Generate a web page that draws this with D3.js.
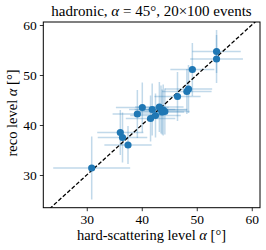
<!DOCTYPE html>
<html>
<head>
<meta charset="utf-8">
<script src="https://cdn.jsdelivr.net/npm/d3@7"></script>
<style>
  body { margin: 0; background: #fff; }
  text { font-family: "Liberation Serif", "DejaVu Serif", serif; fill: #000; }
</style>
</head>
<body>
<svg id="chart" width="266" height="250"></svg>
<script>
// hard-scattering level alpha (x) and reco level alpha (y), degrees
const hardAlpha = [30.9, 36.1, 36.5, 37.5, 39.2, 40.1, 41.6, 41.9, 42.5, 43.2,
                   43.5, 43.9, 44.2, 43.7, 46.5, 48.2, 48.5, 49.2, 53.6, 53.6];
const recoAlpha = [31.4, 38.5, 37.5, 36.0, 42.2, 43.5, 41.3, 43.1, 41.9, 43.6,
                   43.1, 43.0, 42.7, 42.6, 45.7, 46.7, 47.2, 51.1, 54.7, 53.2];
const hardErr   = [7.0, 4.2, 4.5, 4.3, 4.5, 4.8, 4.5, 4.2, 4.6, 4.4,
                   4.8, 4.3, 4.5, 4.0, 4.2, 4.5, 4.3, 4.0, 4.4, 4.8];
const recoErr   = [6.3, 4.5, 5.0, 3.8, 4.8, 5.0, 4.6, 5.2, 4.4, 5.0,
                   4.8, 5.1, 4.6, 4.5, 4.9, 4.5, 4.8, 5.3, 4.3, 4.8];
const xTicks = [30, 40, 50, 60];
const yTicks = [30, 40, 50, 60];

const data = hardAlpha.map((x, i) => ({x: x, y: recoAlpha[i], ex: hardErr[i], ey: recoErr[i]}));

let chart = d3.select("#chart");
let mLeft = 43.3, mRight = 260, mTop = 22, mBottom = 207.7;

let xScale = d3.scaleLinear().domain([22.1, 61.5]).range([mLeft, mRight]);
let yScale = d3.scaleLinear().domain([23.46, 60.6]).range([mBottom, mTop]);

chart.append("defs").append("clipPath").attr("id", "clip")
    .append("rect")
        .attr("x", mLeft).attr("y", mTop)
        .attr("width", mRight - mLeft).attr("height", mBottom - mTop);

let plot = chart.append("g").attr("clip-path", "url(#clip)");

// error bars
let eb = plot.append("g")
    .attr("stroke", "#1f77b4")
    .attr("stroke-opacity", 0.28)
    .attr("stroke-width", 1.5);

eb.selectAll("line.h")
    .data(data).enter()
        .append("line")
            .attr("class", "h")
            .attr("x1", d => xScale(d.x - d.ex))
            .attr("x2", d => xScale(d.x + d.ex))
            .attr("y1", d => yScale(d.y))
            .attr("y2", d => yScale(d.y));

eb.selectAll("line.v")
    .data(data).enter()
        .append("line")
            .attr("class", "v")
            .attr("x1", d => xScale(d.x))
            .attr("x2", d => xScale(d.x))
            .attr("y1", d => yScale(d.y - d.ey))
            .attr("y2", d => yScale(d.y + d.ey));

// diagonal y = x
let diag = [20, 65];
plot.append("line")
    .attr("x1", xScale(diag[0])).attr("y1", yScale(diag[0]))
    .attr("x2", xScale(diag[1])).attr("y2", yScale(diag[1]))
    .attr("stroke", "#000")
    .attr("stroke-width", 1.3)
    .attr("stroke-dasharray", "4,2");

plot.selectAll("circle")
    .data(data).enter()
        .append("circle")
            .attr("cx", d => xScale(d.x))
            .attr("cy", d => yScale(d.y))
            .attr("r", 3.6)
            .attr("fill", "#1f77b4");

// axes
let xAxis = chart.append("g")
    .attr("transform", "translate(0," + mBottom + ")")
    .call(d3.axisBottom(xScale).tickValues(xTicks).tickSize(3.5).tickPadding(3).tickSizeOuter(0));

let yAxis = chart.append("g")
    .attr("transform", "translate(" + mLeft + ",0)")
    .call(d3.axisLeft(yScale).tickValues(yTicks).tickSize(3.5).tickPadding(3).tickSizeOuter(0));

[xAxis, yAxis].forEach(a => {
    a.select(".domain").remove();
    a.selectAll("text").style("font-size", "13.5px").attr("fill", "#000");
    a.selectAll("line").attr("stroke", "#000").attr("stroke-width", 0.8);
});

chart.append("rect")
    .attr("x", mLeft).attr("y", mTop)
    .attr("width", mRight - mLeft).attr("height", mBottom - mTop)
    .attr("fill", "none")
    .attr("stroke", "#000")
    .attr("stroke-width", 1);

// title
let title = chart.append("text")
    .attr("x", 151.5)
    .attr("y", 16)
    .style("text-anchor", "middle")
    .style("font-size", "15px");
title.append("tspan").text("hadronic, ");
title.append("tspan").style("font-style", "italic").text("α");
title.append("tspan").text(" = 45°, 20×100 events");

let xl = chart.append("text")
    .attr("x", 151.5)
    .attr("y", 240)
    .style("text-anchor", "middle")
    .style("font-size", "14.5px");
xl.append("tspan").text("hard-scattering level ");
xl.append("tspan").style("font-style", "italic").text("α");
xl.append("tspan").text(" [°]");

let yl = chart.append("text")
    .attr("transform", "translate(17,113) rotate(-90)")
    .style("text-anchor", "middle")
    .style("font-size", "14.5px");
yl.append("tspan").text("reco level ");
yl.append("tspan").style("font-style", "italic").text("α");
yl.append("tspan").text(" [°]");
</script>
</body>
</html>
